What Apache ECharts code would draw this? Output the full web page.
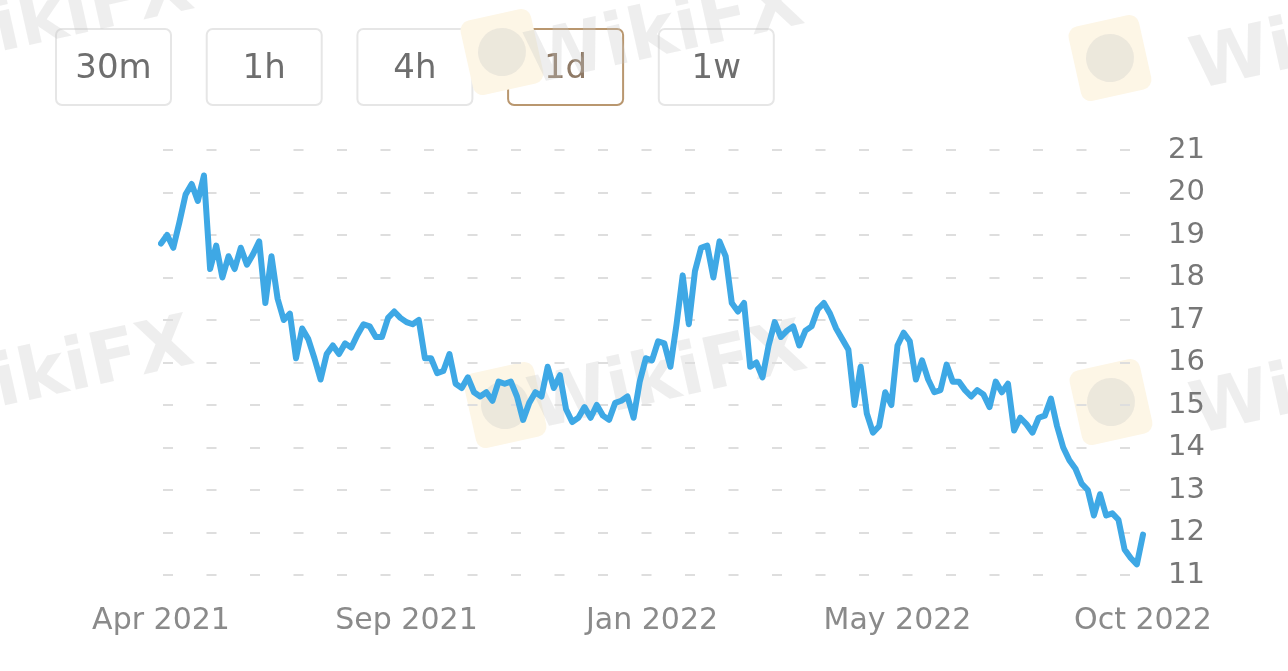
<!DOCTYPE html>
<html>
<head>
<meta charset="utf-8">
<script src="https://cdn.jsdelivr.net/npm/echarts@6/dist/echarts.min.js"></script>
<style>
html,body{margin:0;padding:0;background:#ffffff;}
#chart{width:1288px;height:671px;}
</style>
</head>
<body>
<div id="chart"></div>
<script>
// ---- data ----
const xTickLabels = ['Apr 2021', 'Sep 2021', 'Jan 2022', 'May 2022', 'Oct 2022'];
const yTickValues = [11, 12, 13, 14, 15, 16, 17, 18, 19, 20, 21];
const periods = ['30m', '1h', '4h', '1d', '1w'];
const selectedPeriod = '1d';
const watermarkText = 'WikiFX';
const prices = [
  18.8, 19.0, 18.7, 19.3, 19.95, 20.2, 19.8, 20.4, 18.2, 18.75,
  18.0, 18.5, 18.2, 18.7, 18.3, 18.55, 18.85, 17.4, 18.5, 17.5,
  17.0, 17.15, 16.1, 16.8, 16.55, 16.1, 15.6, 16.2, 16.4, 16.2,
  16.45, 16.35, 16.65, 16.9, 16.85, 16.6, 16.6, 17.05, 17.2, 17.05,
  16.95, 16.9, 17.0, 16.1, 16.1, 15.75, 15.8, 16.2, 15.5, 15.4,
  15.65, 15.3, 15.2, 15.3, 15.1, 15.55, 15.5, 15.55, 15.2, 14.65,
  15.05, 15.3, 15.2, 15.9, 15.4, 15.7, 14.9, 14.6, 14.7, 14.95,
  14.7, 15.0, 14.75, 14.65, 15.05, 15.1, 15.2, 14.7, 15.55, 16.1,
  16.05, 16.5, 16.45, 15.9, 16.9, 18.05, 16.9, 18.15, 18.7, 18.75,
  18.0, 18.85, 18.5, 17.4, 17.2, 17.4, 15.9, 16.0, 15.65, 16.4,
  16.95, 16.6, 16.75, 16.85, 16.4, 16.75, 16.85, 17.25, 17.4, 17.15,
  16.8, 16.55, 16.3, 15.0, 15.9, 14.8, 14.35, 14.5, 15.3, 15.0,
  16.4, 16.7, 16.5, 15.6, 16.05, 15.6, 15.3, 15.35, 15.95, 15.55,
  15.55, 15.35, 15.2, 15.35, 15.25, 14.95, 15.55, 15.3, 15.5, 14.4,
  14.7, 14.55, 14.35, 14.7, 14.75, 15.15, 14.5, 14.0, 13.7, 13.5,
  13.15, 13.0, 12.4, 12.9, 12.4, 12.45, 12.3, 11.6, 11.4, 11.25,
  11.95
];

// ---- build categories from tick labels ----
const labelStep = (prices.length - 1) / (xTickLabels.length - 1);
const categories = prices.map((_, i) => (i % labelStep === 0 ? xTickLabels[i / labelStep] : ''));

// ---- decorative elements (buttons, watermarks) ----
const graphics = [];
const btnLeft = 55, btnTop = 28, btnW = 115, btnH = 76, btnGap = 150.7;
periods.forEach((p, i) => {
  const sel = p === selectedPeriod;
  graphics.push({
    type: 'group', left: btnLeft + i * btnGap, top: btnTop, z: 10,
    children: [
      { type: 'rect', shape: { x: 0, y: 0, width: btnW, height: btnH, r: 6 },
        style: { fill: 'rgba(255,255,255,0)', stroke: sel ? '#b9976f' : '#e6e6e6', lineWidth: 2 } },
      { type: 'text', x: btnW / 2, y: btnH / 2 + 2,
        style: { text: p, fill: sel ? '#8f7a66' : '#6e6e6e', font: '34px "DejaVu Sans"',
                 align: 'center', verticalAlign: 'middle' } }
    ]
  });
});

function logo(cx, cy) {
  return {
    type: 'group', x: cx, y: cy, rotation: 0.22, z: 0,
    children: [
      { type: 'rect', shape: { x: -36, y: -38, width: 72, height: 76, r: 10 },
        style: { fill: '#fdf6e6' } },
      { type: 'circle', shape: { cx: 0, cy: 0, r: 24 },
        style: { fill: 'rgba(200,200,200,0.3)' } }
    ]
  };
}
function wm(cx, cy) {
  return {
    type: 'text', x: cx, y: cy, rotation: 0.22, z: 0,
    style: { text: watermarkText, fill: 'rgba(200,200,200,0.3)',
             font: 'bold 72px "DejaVu Sans"', align: 'center', verticalAlign: 'middle' }
  };
}
graphics.push(wm(55, 20), logo(502, 52), wm(665, 35), logo(1110, 58), wm(1330, 40));
graphics.push(wm(55, 375), logo(505, 405), wm(668, 380), logo(1111, 402), wm(1330, 385));

// ---- chart ----
const chart = echarts.init(document.getElementById('chart'), null, { renderer: 'canvas' });
chart.setOption({
  animation: false,
  backgroundColor: '#ffffff',
  grid: { left: 161, right: 145, top: 150, bottom: 96, containLabel: false },
  xAxis: {
    type: 'category',
    data: categories,
    boundaryGap: false,
    axisLine: { show: false },
    axisTick: { show: false },
    splitLine: { show: false },
    axisLabel: {
      interval: (idx) => idx % labelStep === 0,
      showMinLabel: true, showMaxLabel: true, hideOverlap: false,
      margin: 31, color: '#8a8a8a', fontSize: 30, fontFamily: 'DejaVu Sans'
    }
  },
  yAxis: {
    type: 'value',
    position: 'right',
    min: yTickValues[0],
    max: yTickValues[yTickValues.length - 1],
    interval: 1,
    axisLine: { show: false },
    axisTick: { show: false },
    axisLabel: { margin: 25, color: '#777777', fontSize: 29, fontFamily: 'DejaVu Sans' },
    splitLine: { show: true, lineStyle: { color: '#dedede', width: 2, type: [10, 33.5], dashOffset: -2 } }
  },
  graphic: { elements: graphics },
  series: [{
    type: 'line',
    data: prices,
    showSymbol: false,
    symbol: 'none',
    smooth: false,
    z: 5,
    lineStyle: { color: '#3ea8e5', width: 6, join: 'round', cap: 'round' }
  }]
});
</script>
</body>
</html>
